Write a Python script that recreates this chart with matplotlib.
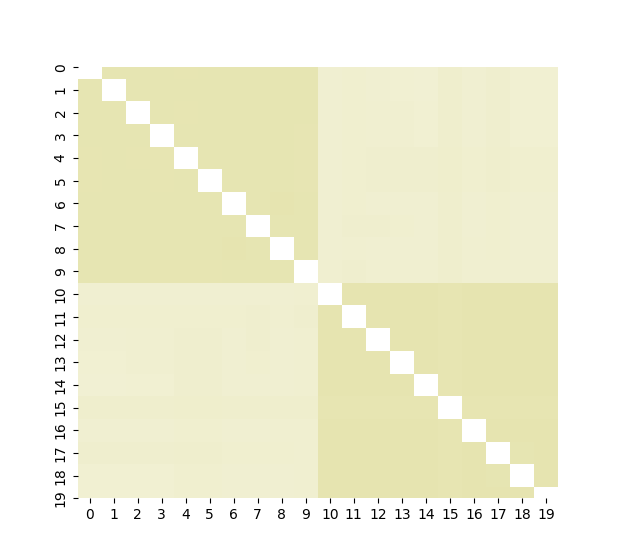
import numpy as np
import matplotlib
matplotlib.use('Agg')
import matplotlib.pyplot as plt
import seaborn as sns
from matplotlib.colors import LinearSegmentedColormap

labels = [str(i) for i in range(20)]

# within-group similarity, variables 0-9
block_a = [
    [1.00, 0.85, 0.85, 0.85, 0.84, 0.85, 0.85, 0.85, 0.85, 0.85],
    [0.85, 1.00, 0.85, 0.85, 0.85, 0.85, 0.85, 0.85, 0.85, 0.85],
    [0.85, 0.85, 1.00, 0.85, 0.84, 0.85, 0.85, 0.85, 0.85, 0.85],
    [0.85, 0.85, 0.85, 1.00, 0.85, 0.85, 0.85, 0.85, 0.85, 0.83],
    [0.84, 0.85, 0.84, 0.84, 1.00, 0.85, 0.85, 0.85, 0.85, 0.83],
    [0.84, 0.85, 0.85, 0.84, 0.85, 1.00, 0.85, 0.85, 0.85, 0.83],
    [0.85, 0.85, 0.85, 0.85, 0.85, 0.85, 1.00, 0.85, 0.86, 0.85],
    [0.85, 0.85, 0.85, 0.85, 0.85, 0.85, 0.85, 1.00, 0.85, 0.85],
    [0.85, 0.85, 0.85, 0.85, 0.85, 0.85, 0.86, 0.85, 1.00, 0.85],
    [0.85, 0.85, 0.85, 0.84, 0.84, 0.84, 0.85, 0.85, 0.85, 1.00],
]

# within-group similarity, variables 10-19
block_b = [
    [1.00, 0.86, 0.86, 0.86, 0.87, 0.84, 0.86, 0.86, 0.86, 0.86],
    [0.86, 1.00, 0.86, 0.86, 0.87, 0.84, 0.87, 0.87, 0.87, 0.87],
    [0.86, 0.86, 1.00, 0.86, 0.87, 0.84, 0.87, 0.87, 0.87, 0.87],
    [0.86, 0.86, 0.86, 1.00, 0.87, 0.84, 0.87, 0.87, 0.87, 0.87],
    [0.87, 0.87, 0.87, 0.87, 1.00, 0.84, 0.87, 0.87, 0.87, 0.87],
    [0.84, 0.84, 0.84, 0.84, 0.84, 1.00, 0.84, 0.84, 0.84, 0.84],
    [0.86, 0.87, 0.87, 0.87, 0.87, 0.84, 1.00, 0.86, 0.86, 0.86],
    [0.86, 0.86, 0.86, 0.86, 0.86, 0.84, 0.86, 1.00, 0.85, 0.86],
    [0.86, 0.86, 0.86, 0.86, 0.86, 0.84, 0.86, 0.85, 1.00, 0.86],
    [0.86, 0.86, 0.86, 0.86, 0.86, 0.84, 0.86, 0.86, 0.86, 1.00],
]

# between-group similarity, rows 0-9 x columns 10-19
cross = [
    [0.50, 0.53, 0.51, 0.49, 0.48, 0.55, 0.51, 0.54, 0.49, 0.49],
    [0.50, 0.53, 0.51, 0.49, 0.48, 0.55, 0.51, 0.54, 0.49, 0.49],
    [0.51, 0.53, 0.52, 0.52, 0.49, 0.55, 0.51, 0.54, 0.49, 0.49],
    [0.51, 0.53, 0.52, 0.52, 0.49, 0.55, 0.51, 0.54, 0.49, 0.49],
    [0.51, 0.53, 0.54, 0.54, 0.54, 0.56, 0.53, 0.55, 0.53, 0.53],
    [0.51, 0.53, 0.54, 0.54, 0.54, 0.56, 0.53, 0.55, 0.53, 0.53],
    [0.50, 0.53, 0.50, 0.50, 0.50, 0.55, 0.51, 0.53, 0.50, 0.50],
    [0.50, 0.54, 0.54, 0.53, 0.51, 0.55, 0.51, 0.53, 0.50, 0.50],
    [0.51, 0.52, 0.51, 0.51, 0.51, 0.55, 0.52, 0.53, 0.51, 0.51],
    [0.52, 0.54, 0.52, 0.52, 0.52, 0.55, 0.52, 0.52, 0.52, 0.52],
]

a = np.array(block_a)
b = np.array(block_b)
c = np.array(cross)
sim = np.block([[a, c], [c.T, b]])

cmap = LinearSegmentedColormap.from_list('olive_light', ['#ffffff', '#e2e0a4'])

fig, ax = plt.subplots(figsize=(6.2, 5.6), dpi=100)
sns.heatmap(sim, mask=np.eye(20, dtype=bool), cmap=cmap, vmin=0, vmax=1,
            cbar=False, xticklabels=labels, yticklabels=labels, ax=ax)

# top and bottom rows come out cut in half
ax.set_ylim(19.5, 0.5)
plt.setp(ax.get_yticklabels(), rotation=90, va='center')
plt.setp(ax.get_xticklabels(), rotation=0)

plt.savefig('out.png')
